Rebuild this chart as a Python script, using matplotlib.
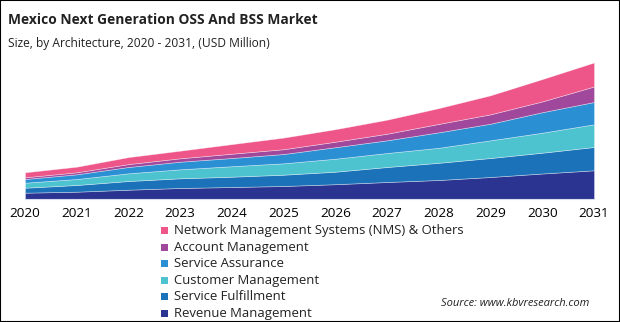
import matplotlib
matplotlib.use("Agg")
import matplotlib.pyplot as plt
from matplotlib.patches import Rectangle

years = ["2020", "2021", "2022", "2023", "2024", "2025", "2026", "2027", "2028", "2029", "2030", "2031"]
revenue_mgmt = [6.3, 7.3, 9.3, 11.0, 12.0, 13.0, 14.8, 17.0, 19.0, 22.0, 25.5, 28.7]
service_fulfillment = [5.0, 6.7, 8.7, 9.7, 10.3, 11.3, 12.5, 15.0, 17.2, 19.0, 20.8, 23.3]
customer_mgmt = [5.0, 6.0, 7.7, 9.0, 10.5, 11.4, 13.0, 14.0, 15.0, 17.7, 20.0, 22.7]
service_assurance = [3.7, 4.7, 6.3, 7.6, 8.2, 9.3, 11.5, 12.7, 15.5, 16.6, 20.5, 22.3]
account_mgmt = [1.7, 2.0, 2.9, 3.4, 4.3, 4.8, 5.5, 6.6, 8.4, 9.4, 10.8, 15.5]
nms_others = [5.0, 5.6, 7.0, 7.6, 9.6, 11.6, 12.5, 14.0, 15.8, 19.0, 22.3, 24.0]

series_names = ["Revenue Management", "Service Fulfillment", "Customer Management",
                "Service Assurance", "Account Management",
                "Network Management Systems (NMS) & Others"]
series_values = [revenue_mgmt, service_fulfillment, customer_mgmt,
                 service_assurance, account_mgmt, nms_others]
colors = ["#2B3491", "#1C72B8", "#4CC3CF", "#2B8FD4", "#A0489B", "#EE5589"]

FONT = "Open Sans"
W, H = 620, 322
fig = plt.figure(figsize=(W / 100, H / 100), dpi=100)

x = list(range(len(years)))
ax = fig.add_axes([25 / W, 1 - 199 / H, (594 - 25) / W, (199 - 55) / H])
ax.stackplot(x, *series_values, colors=colors, edgecolor=(1, 1, 1, 0.45), linewidth=0.5)
ax.set_xlim(0, len(years) - 1)
ax.set_ylim(0, 144)
for s in ["top", "right", "left"]:
    ax.spines[s].set_visible(False)
ax.spines["bottom"].set_color("#d9dcef")
ax.spines["bottom"].set_linewidth(0.8)
ax.set_yticks([])
ax.set_xticks(x)
ax.set_xticklabels(years, fontsize=9.7, family=FONT, color="#000000")
ax.tick_params(axis="x", length=0, pad=6)

fig.canvas.draw()
renderer = fig.canvas.get_renderer()

def fitted_text(xp, yp, s, width_px, **kw):
    t = fig.text(xp / W, 1 - yp / H, s, **kw)
    bb = t.get_window_extent(renderer)
    fs = t.get_fontsize() * width_px / bb.width
    t.set_fontsize(fs)
    return t

fitted_text(8, 20, "Mexico Next Generation OSS And BSS Market", 308,
            fontsize=11, fontweight="bold", family=FONT, color="#222222", va="center", ha="left")
fitted_text(8, 44, "Size, by Architecture, 2020 - 2031, (USD Million)", 261,
            fontsize=8.5, family=FONT, color="#222222", va="center", ha="left")

# legend (reverse order: top entry is NMS)
row0, dy = 230.5, 16.6
probe = fig.text(0, 0, series_names[-1], fontsize=10, family=FONT)
bbw = probe.get_window_extent(renderer).width
leg_fs = 10 * (464 - 174) / bbw
probe.remove()
for i, (name, col) in enumerate(zip(series_names[::-1], colors[::-1])):
    yc = row0 + i * dy
    fig.patches.append(Rectangle((161 / W, 1 - (yc + 3.5) / H), 7 / W, 7 / H,
                                 transform=fig.transFigure, facecolor=col, edgecolor="none"))
    fig.text(174 / W, 1 - yc / H, name, fontsize=leg_fs, family=FONT,
             color="#222222", va="center", ha="left")

fitted_text(441, 303, "Source: www.kbvresearch.com", 148,
            fontsize=8, style="italic", family=FONT, color="#222222", va="center", ha="left")

fig.patches.append(Rectangle((0, 0), 1, 1, transform=fig.transFigure, fill=False,
                             edgecolor="black", linewidth=1.5))
fig.savefig("out.png", dpi=100)
